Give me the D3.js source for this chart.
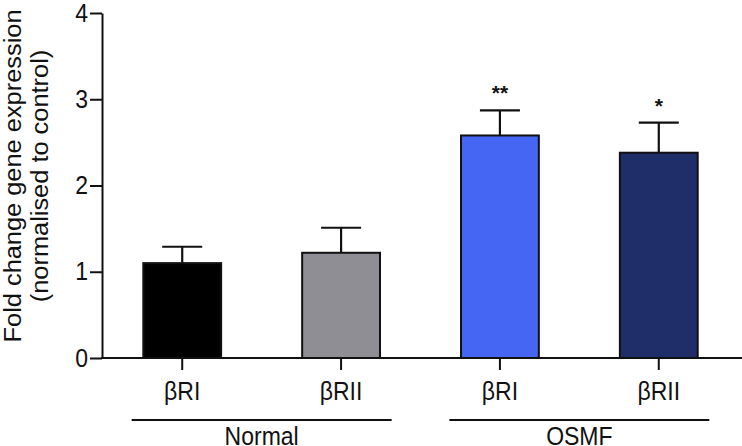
<!DOCTYPE html>
<html>
<head>
<meta charset="utf-8">
<script src="https://cdn.jsdelivr.net/npm/d3@7/dist/d3.min.js"></script>
<style>
  html, body { margin: 0; padding: 0; background: #fff; }
  svg { display: block; }
  text { font-family: "Liberation Sans", Arial, sans-serif; fill: #111; }
</style>
</head>
<body>
<script>
// ---- data ----
const categories = ["Normal βRI", "Normal βRII", "OSMF βRI", "OSMF βRII"];
const tickLabels = ["βRI", "βRII", "βRI", "βRII"];
const means = [1.10, 1.22, 2.58, 2.38];
const sems = [0.19, 0.29, 0.29, 0.35];
const significance = ["", "", "**", "*"];
const barColors = ["#000000", "#8e8e94", "#4466f2", "#1f2d68"];
const groups = ["Normal", "OSMF"];
const groupMembers = [[0, 1], [2, 3]];
const yTicks = [0, 1, 2, 3, 4];
const yLabelLines = ["Fold change gene expression", "(normalised to control)"];

const W = 742, H = 446;
const svg = d3.select("body").append("svg").attr("width", W).attr("height", H);

// horizontally condense a text (the reference text is slightly narrow)
function condense(sel, f) {
  sel.each(function () {
    const n = this.getComputedTextLength();
    d3.select(this).attr("textLength", n * f).attr("lengthAdjust", "spacingAndGlyphs");
  });
}

const x = d3.scaleBand().domain(categories).range([102, 739])
  .paddingInner(0.51).paddingOuter(0.26);
const y = d3.scaleLinear().domain([0, 4]).range([358, 13]);

// bars
svg.selectAll("rect.bar").data(categories).enter().append("rect")
  .attr("class", "bar")
  .attr("x", d => x(d))
  .attr("y", (d, i) => y(means[i]))
  .attr("width", x.bandwidth())
  .attr("height", (d, i) => y(0) - y(means[i]))
  .attr("fill", (d, i) => barColors[i])
  .attr("stroke", "#111").attr("stroke-width", 2);

// error bars
const cap = 40;
categories.forEach((c, i) => {
  const cx = x(c) + x.bandwidth() / 2;
  const g = svg.append("g").attr("stroke", "#111").attr("stroke-width", 2.2);
  g.append("line").attr("x1", cx).attr("x2", cx)
    .attr("y1", y(means[i])).attr("y2", y(means[i] + sems[i]));
  g.append("line").attr("x1", cx - cap / 2).attr("x2", cx + cap / 2)
    .attr("y1", y(means[i] + sems[i])).attr("y2", y(means[i] + sems[i]));
  if (significance[i]) {
    svg.append("text").attr("x", cx).attr("y", y(means[i] + sems[i]) - 10)
      .attr("text-anchor", "middle").attr("font-size", 21)
      .attr("font-weight", "bold")
      .attr("fill", "#333").text(significance[i]);
  }
});

// y axis
const yAxis = d3.axisLeft(y).tickValues(yTicks).tickFormat(d3.format("d"))
  .tickSize(12).tickSizeOuter(0).tickPadding(2);
const ya = svg.append("g").attr("transform", "translate(102,0)").call(yAxis);
ya.select(".domain").attr("stroke", "#111").attr("stroke-width", 2);
ya.selectAll(".tick line").attr("stroke", "#111").attr("stroke-width", 2);
ya.selectAll(".tick text").attr("font-size", 25).attr("fill", "#111")
  .attr("font-family", "Liberation Sans, Arial, sans-serif").call(condense, 0.92);

// x axis baseline
svg.append("line").attr("x1", 101).attr("x2", W).attr("y1", y(0)).attr("y2", y(0))
  .attr("stroke", "#111").attr("stroke-width", 2);

const xAxis = d3.axisBottom(x).tickSize(12).tickSizeOuter(0).tickPadding(12)
  .tickFormat((d, i) => tickLabels[i]);
const xa = svg.append("g").attr("transform", `translate(0,${y(0)})`).call(xAxis);
xa.select(".domain").remove();
xa.selectAll(".tick line").attr("stroke", "#111").attr("stroke-width", 2);
xa.selectAll(".tick text").attr("font-size", 25).attr("fill", "#111")
  .attr("font-family", "Liberation Sans, Arial, sans-serif").call(condense, 0.92);

// group lines + labels
groups.forEach((gname, gi) => {
  const m = groupMembers[gi];
  const c0 = x(categories[m[0]]) + x.bandwidth() / 2;
  const c1 = x(categories[m[1]]) + x.bandwidth() / 2;
  const mid = (c0 + c1) / 2;
  svg.append("line").attr("x1", mid - 130).attr("x2", mid + 130)
    .attr("y1", 420).attr("y2", 420).attr("stroke", "#111").attr("stroke-width", 2);
  svg.append("text").attr("x", mid).attr("y", 445).attr("text-anchor", "middle")
    .attr("font-size", 25).text(gname).call(condense, 0.92);
});

// y label
const yl = svg.append("text").attr("transform", "translate(0,176) rotate(-90)")
  .attr("text-anchor", "middle").attr("font-size", 23.5);
yl.append("tspan").attr("x", 0).attr("y", 21).text(yLabelLines[0]);
yl.append("tspan").attr("x", 0).attr("y", 48).text(yLabelLines[1]);
yl.selectAll("tspan").call(condense, 1.08);
</script>
</body>
</html>
